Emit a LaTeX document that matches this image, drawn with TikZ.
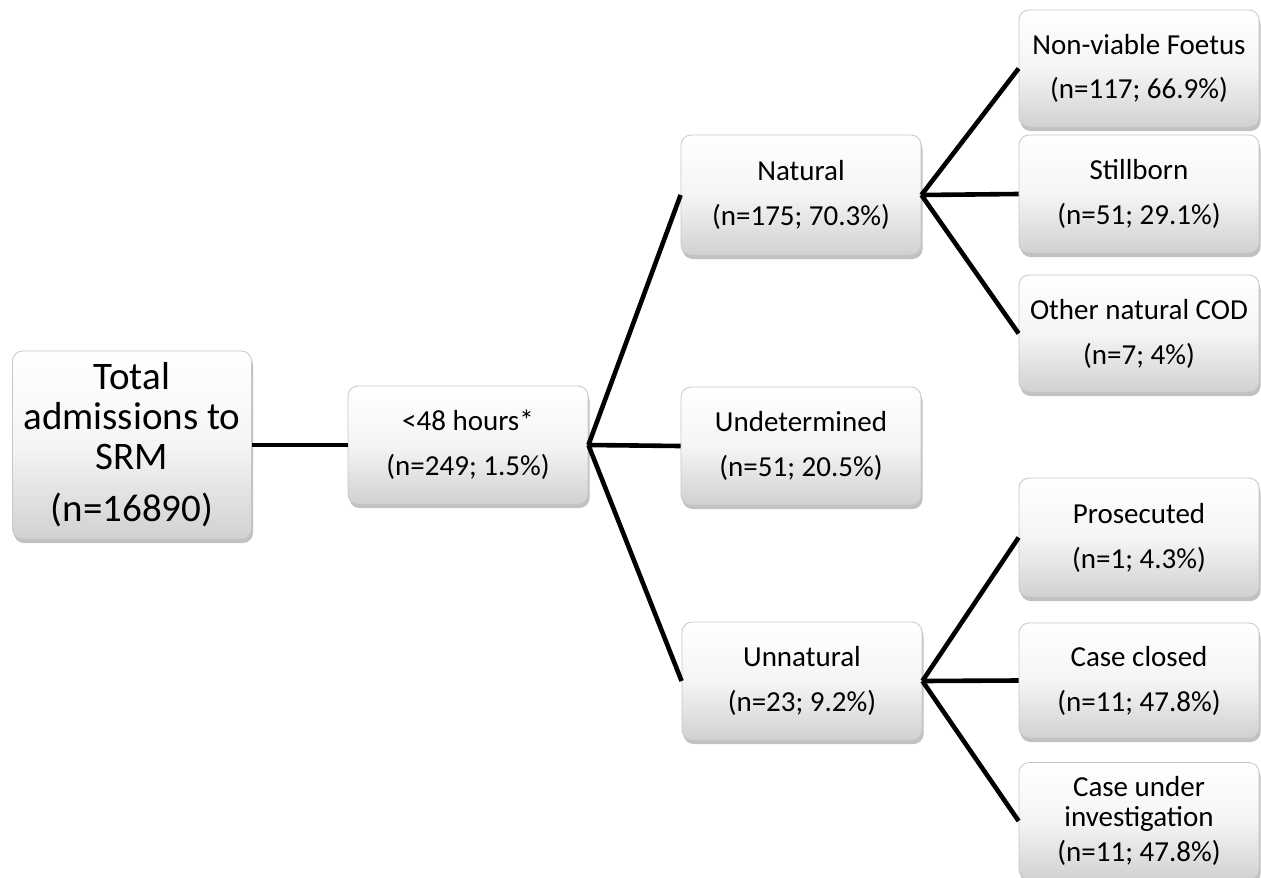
\documentclass[tikz,border=0pt]{standalone}
\usepackage{fontspec}
\setmainfont{Carlito}
\usetikzlibrary{shadows}
\tikzset{
  box/.style={rectangle, rounded corners=10pt, draw=black!22, line width=0.8pt,
    top color=white, bottom color=black!18, middle color=black!4,
    align=center, inner sep=0pt, text=black,
    drop shadow={shadow xshift=1.5pt, shadow yshift=-4pt, opacity=0.35, fill=black!70},
    font=\fontsize{29}{35}\selectfont},
  link/.style={line width=4.6pt, black}
}
\begin{document}
\begin{tikzpicture}[x=1pt,y=-1pt]
\useasboundingbox (0,0) rectangle (1261,878);
% root and level 1
\node[box, minimum width=239pt, minimum height=188pt, font=\fontsize{39}{40}\selectfont]
  (root) at (132,445) {Total\\admissions to\\SRM\\[12pt](n=16890)};
\node[box, minimum width=240pt, minimum height=118pt] (h48) at (468,445) {<48 hours*\\[10pt](n=249; 1.5\%)};
% level 2
\node[box, minimum width=240pt, minimum height=120pt] (nat) at (801,195) {Natural\\[10pt](n=175; 70.3\%)};
\node[box, minimum width=240pt, minimum height=118pt] (und) at (801,446) {Undetermined\\[10pt](n=51; 20.5\%)};
\node[box, minimum width=240pt, minimum height=118pt] (unn) at (802,681) {Unnatural\\[10pt](n=23; 9.2\%)};
% level 3
\node[box, minimum width=240pt, minimum height=117pt] (nv) at (1139,68.5) {Non-viable Foetus\\[9pt](n=117; 66.9\%)};
\node[box, minimum width=240pt, minimum height=118pt] (sb) at (1139,194) {Stillborn\\[10pt](n=51; 29.1\%)};
\node[box, minimum width=240pt, minimum height=117pt] (oc) at (1139,333.5) {Other natural COD\\[10pt](n=7; 4\%)};
\node[box, minimum width=240pt, minimum height=119pt] (pr) at (1139,537.5) {Prosecuted\\[10pt](n=1; 4.3\%)};
\node[box, minimum width=240pt, minimum height=115pt] (cc) at (1139,680.5) {Case closed\\[10pt](n=11; 47.8\%)};
\node[box, minimum width=240pt, minimum height=117pt] (cu) at (1139,821) {Case under\\[-5pt]investigation\\[0pt](n=11; 47.8\%)};
% connectors
\draw[link] (root.east) -- (h48.west);
\draw[link] (h48.east) -- (nat.west);
\draw[link] (h48.east) -- (und.west);
\draw[link] (h48.east) -- (unn.west);
\draw[link] (nat.east) -- (nv.west);
\draw[link] (nat.east) -- (sb.west);
\draw[link] (nat.east) -- (oc.west);
\draw[link] (unn.east) -- (pr.west);
\draw[link] (unn.east) -- (cc.west);
\draw[link] (unn.east) -- (cu.west);
\end{tikzpicture}
\end{document}
